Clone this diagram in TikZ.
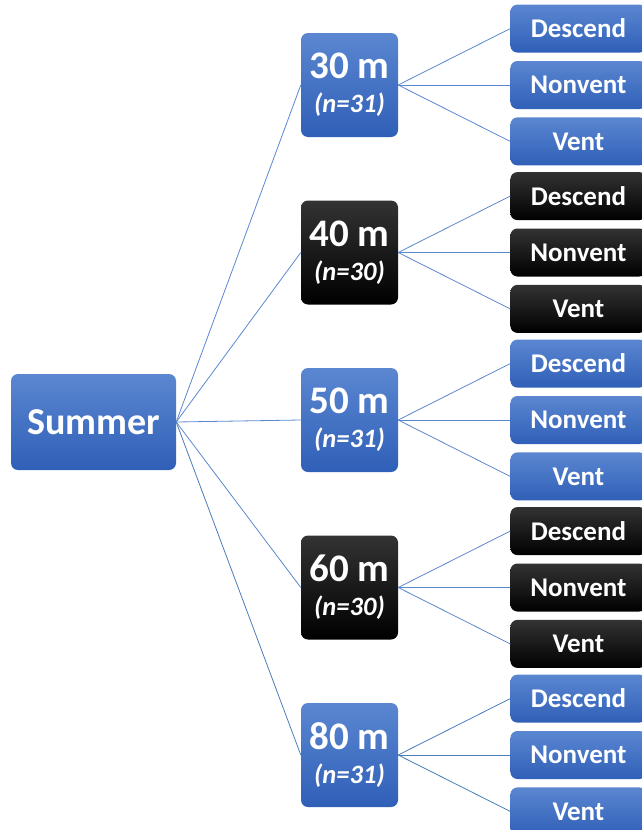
\documentclass[tikz,border=0pt]{standalone}
\usepackage{fontspec}
\setmainfont{Carlito}
\usetikzlibrary{positioning}
\definecolor{boxtop}{HTML}{5B87D1}
\definecolor{boxbot}{HTML}{2F5FB7}
\definecolor{linkblue}{HTML}{5B87D1}
\definecolor{linkdark}{HTML}{4A7DB8}
\tikzstyle{box} = [rounded corners=7pt, text=white, font=\bfseries, inner sep=0pt, align=center]
\tikzstyle{bluebox} = [box, top color=boxtop, bottom color=boxbot]
\tikzstyle{blackbox} = [box, top color=black!80, bottom color=black]
\tikzstyle{leaf} = [minimum width=136pt, minimum height=48pt, font=\bfseries\fontsize{27}{27}\selectfont]
\tikzstyle{link} = [draw, line width=0.8pt]

\begin{document}
\begin{tikzpicture}[x=1pt,y=-1pt]

\useasboundingbox (0,0) rectangle (642,830);

\node[bluebox, minimum width=165pt, minimum height=96pt,
      font=\bfseries\fontsize{38}{38}\selectfont] (summer) at (93.5,422) {Summer};

% depth / sample size / centre / box style / line colour
\foreach \d/\n/\y/\kind/\lc in {30/31/85/bluebox/linkblue,
                                 40/30/252.5/blackbox/linkblue,
                                 50/31/420/bluebox/linkblue,
                                 60/30/587.5/blackbox/linkblue,
                                 80/31/755/bluebox/linkdark} {
	\node[\kind, minimum width=97pt, minimum height=104pt,
	      font=\bfseries\fontsize{39}{39}\selectfont] (d\d) at (349.5,\y)
		{\raisebox{-2pt}{\d\ m}\\[-3pt]{\fontsize{26.5}{26.5}\selectfont\itshape (n=\n)}};
	\node[\kind, leaf, right=112pt of d\d] (nonvent\d) {Nonvent};
	\node[\kind, leaf, above=8pt of nonvent\d] (descend\d) {Descend};
	\node[\kind, leaf, below=8pt of nonvent\d] (vent\d) {Vent};

	\draw[link, \lc] (summer.east) -- (d\d.west);
	\draw[link, \lc] (d\d.east) -- (descend\d.west);
	\draw[link, \lc] (d\d.east) -- (nonvent\d.west);
	\draw[link, \lc] (d\d.east) -- (vent\d.west);
}
\end{tikzpicture}
\end{document}
